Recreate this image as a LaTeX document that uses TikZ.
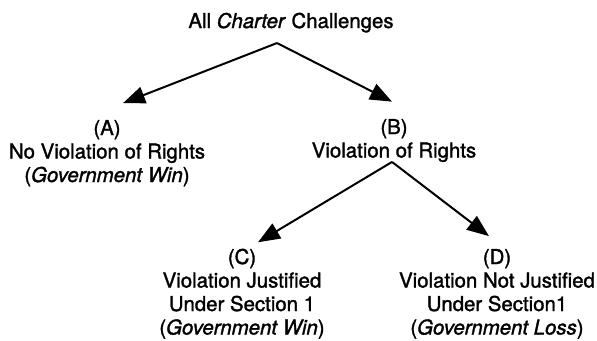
\documentclass[tikz,border=0pt]{standalone}
\usepackage{fontspec}
\setmainfont{TeX Gyre Heros}[FakeBold=1.5]
\usetikzlibrary{arrows.meta}

\begin{document}
\begin{tikzpicture}[
x=1pt, y=-1pt,
font=\fontsize{20.4}{23.5}\selectfont,
case/.style={align=center, anchor=base, inner sep=0pt, outer sep=0pt},
post/.style={-{Triangle[length=22pt,width=17pt]}, line width=2pt}
]
\useasboundingbox (0,0) rectangle (597,340);

\node[case] (all) at (291,28) {All \textit{Charter} Challenges};
\node[case] (A) at (107,182) {(A)\\No Violation of Rights\\(\textit{Government Win})};
\node[case] (B) at (394,157.5) {(B)\\Violation of Rights};
\node[case] (C) at (242,334.5) {(C)\\Violation Justified\\Under Section 1\\(\textit{Government Win})};
\node[case] (D) at (497,334.5) {(D)\\Violation Not Justified\\Under Section1\\(\textit{Government Loss})};

\coordinate (top) at ([shift={(-14,10.6)}]all.south);
\coordinate (split) at ([xshift=-2pt]B.south);

\draw[post] (top) -- ([shift={(16,-17)}]A.north);
\draw[post] (top) -- ([shift={(-2,-17.5)}]B.north);
\draw[post] (split) -- ([shift={(16,-6.5)}]C.north);
\draw[post] (split) -- ([shift={(-8,-13)}]D.north);

%
\end{tikzpicture}
\end{document}
